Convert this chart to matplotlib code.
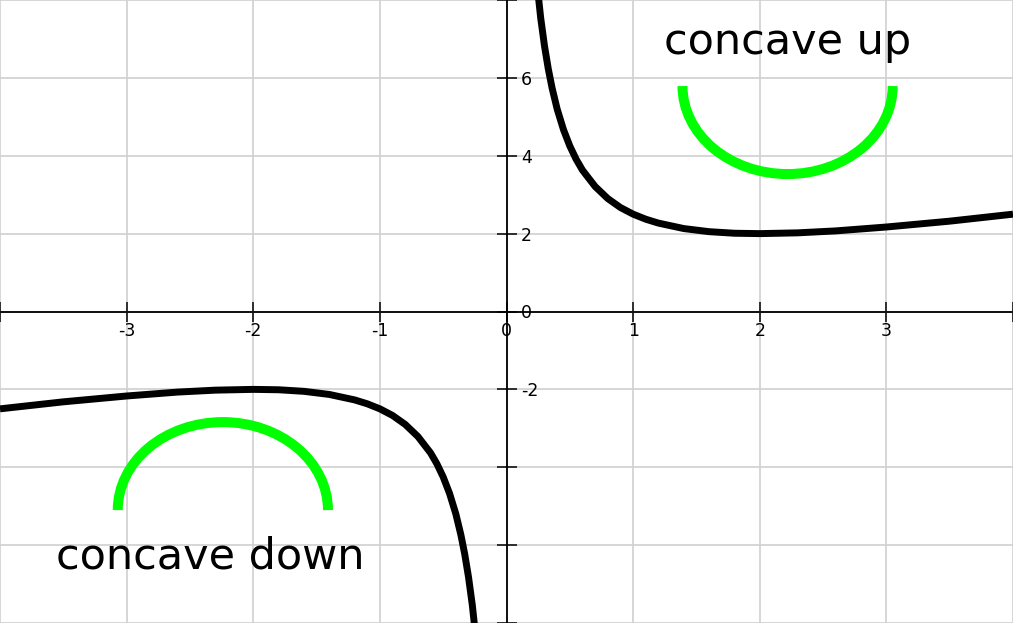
import matplotlib.pyplot as plt
from matplotlib.patches import Arc

# points, right branch
x_right = [0.24, 0.27, 0.30, 0.33, 0.36, 0.40, 0.45, 0.50, 0.55, 0.60, 0.70, 0.80, 0.90,
           1.00, 1.10, 1.20, 1.40, 1.60, 1.80, 2.00, 2.30, 2.60, 3.00, 3.50, 4.00]
y_right = [8.45, 7.54, 6.82, 6.23, 5.74, 5.20, 4.67, 4.25, 3.91, 3.63, 3.21, 2.90, 2.67,
           2.50, 2.37, 2.27, 2.13, 2.05, 2.01, 2.00, 2.02, 2.07, 2.17, 2.32, 2.50]

# left branch
x_left = [-4.00, -3.50, -3.00, -2.60, -2.30, -2.00, -1.80, -1.60, -1.40, -1.20, -1.10, -1.00,
          -0.90, -0.80, -0.70, -0.60, -0.55, -0.50, -0.45, -0.40, -0.36, -0.33, -0.30, -0.27, -0.24]
y_left = [-2.50, -2.32, -2.17, -2.07, -2.02, -2.00, -2.01, -2.05, -2.13, -2.27, -2.37, -2.50,
          -2.67, -2.90, -3.21, -3.63, -3.91, -4.25, -4.67, -5.20, -5.74, -6.23, -6.82, -7.54, -8.45]

# green arcs: centre x, centre y, width, height, start/end angle
arc_cx = [2.22, -2.24]
arc_cy = [5.79, -5.10]
arc_w = [1.66, 1.66]
arc_h = [4.52, 4.52]
arc_t1 = [180, 0]
arc_t2 = [360, 180]

labels = ['concave up', 'concave down']
label_x = [2.22, -2.34]
label_y = [6.62, -6.59]

x_ticks = [-4, -3, -2, -1, 0, 1, 2, 3, 4]
x_ticklabels = ['', '-3', '-2', '-1', '0', '1', '2', '3', '']
y_ticks = [-8, -6, -4, -2, 0, 2, 4, 6, 8]
y_ticklabels = ['', '', '', '-2', '0', '2', '4', '6', '']

fig = plt.figure(figsize=(10.13, 6.23), dpi=100)
ax = fig.add_axes([0, 0, 1, 1])

ax.set_xlim(-4, 4)
ax.set_ylim(-8, 8)
ax.set_xticks(x_ticks)
ax.set_xticklabels(x_ticklabels)
ax.set_yticks(y_ticks)
ax.set_yticklabels(y_ticklabels)
ax.grid(True, color='#d0d0d0', lw=1.2)
ax.set_axisbelow(True)

ax.spines['left'].set_position('zero')
ax.spines['bottom'].set_position('zero')
ax.spines['top'].set_visible(False)
ax.spines['right'].set_visible(False)
ax.spines['left'].set_linewidth(1.3)
ax.spines['bottom'].set_linewidth(1.3)

ax.tick_params(axis='both', direction='inout', length=14.4, width=1.1, labelsize=12.5)
ax.tick_params(axis='x', pad=0.5)
ax.tick_params(axis='y', pad=-17.5)
for t in ax.get_yticklabels():
    t.set_ha('left')

ax.plot(x_right, y_right, color='black', lw=5, solid_capstyle='butt')
ax.plot(x_left, y_left, color='black', lw=5, solid_capstyle='butt')

for i in range(len(arc_cx)):
    a = Arc((arc_cx[i], arc_cy[i]), arc_w[i], arc_h[i], theta1=arc_t1[i], theta2=arc_t2[i],
            color='#00ff00', lw=7.2, capstyle='butt')
    ax.add_patch(a)

for i in range(len(labels)):
    ax.text(label_x[i], label_y[i], labels[i], fontsize=31, ha='center', va='baseline')

fig.savefig('out.png', dpi=100)
